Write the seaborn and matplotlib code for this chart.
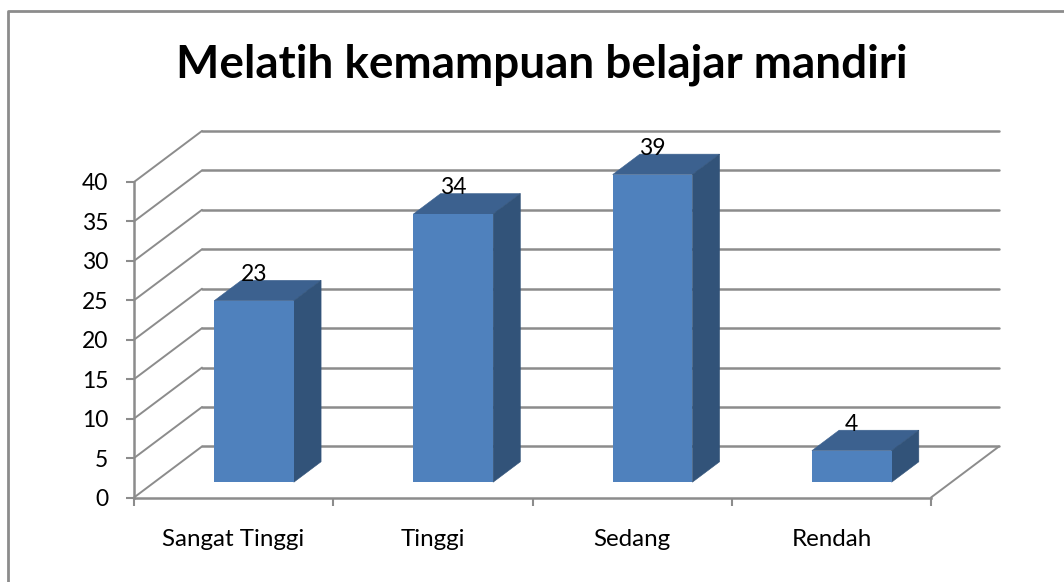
import matplotlib
matplotlib.use("Agg")
import matplotlib.pyplot as plt
from matplotlib.lines import Line2D
import pandas as pd
import seaborn as sns

categories = ["Sangat Tinggi", "Tinggi", "Sedang", "Rendah"]
values = [23, 34, 39, 4]
y_ticks = [0, 5, 10, 15, 20, 25, 30, 35, 40]
title = "Melatih kemampuan belajar mandiri"

W, H = 1064, 582
GREY = "#8c8c8c"
FRONT = "#4f81bd"
TOP = "#3c618f"
SIDE = "#325379"

# depth of the fake 3d floor, in data units
depth_x = 68 / 199.25
depth_y = 51 / 7.88

sns.set_style("white")
plt.rcParams["font.family"] = ["Lato", "DejaVu Sans"]

df = pd.DataFrame({"category": categories, "value": values})

fig = plt.figure(figsize=(W / 100, H / 100), dpi=100)
ax = fig.add_axes([134 / W, 1 - 497.5 / H, (931 - 134) / W, (497.5 - 182) / H])

sns.barplot(data=df, x="category", y="value", color=FRONT, saturation=1,
            width=0.4, ax=ax, zorder=3, linewidth=0)
ax.set_xlim(-0.5, 3.5)
ax.set_ylim(0, 40)

# walls and gridlines
for level in y_ticks:
    ax.plot([-0.5, -0.5 + depth_x], [level, level + depth_y], color=GREY, lw=1.4,
            clip_on=False, zorder=1)
    ax.plot([-0.5 + depth_x, 3.5 + depth_x], [level + depth_y, level + depth_y],
            color=GREY, lw=1.8, clip_on=False, zorder=1)
ax.plot([3.5, 3.5 + depth_x], [0, depth_y], color=GREY, lw=1.4, clip_on=False, zorder=1)

# move bars onto the floor and add top and side faces
for i, patch in enumerate(ax.patches):
    x0 = patch.get_x() + 0.3 * depth_x
    y0 = 0.3 * depth_y
    w = patch.get_width()
    val = values[i]
    patch.set_x(x0)
    patch.set_y(y0)
    patch.set_clip_on(False)
    dx = 0.4 * depth_x
    dy = 0.4 * depth_y
    ax.fill([x0, x0 + w, x0 + w + dx, x0 + dx],
            [y0 + val, y0 + val, y0 + val + dy, y0 + val + dy],
            facecolor=TOP, edgecolor=TOP, lw=0.4, clip_on=False, zorder=2.9)
    ax.fill([x0 + w, x0 + w + dx, x0 + w + dx, x0 + w],
            [y0, y0 + dy, y0 + val + dy, y0 + val],
            facecolor=SIDE, edgecolor=SIDE, lw=0.4, clip_on=False, zorder=2.9)
    ax.annotate(str(val), (x0 + w / 2, y0 + val), xytext=(0, 19),
                textcoords="offset points", ha="center", va="center",
                fontsize=16.5, color="black", zorder=5, annotation_clip=False)

sns.despine(ax=ax)
for side in ["left", "bottom"]:
    ax.spines[side].set_color(GREY)
    ax.spines[side].set_linewidth(1.8)
    ax.spines[side].set_zorder(2)

ax.set_xlabel("")
ax.set_ylabel("")
ax.set_yticks(y_ticks)
ax.tick_params(axis="y", length=5.5, width=1.5, color=GREY, labelsize=16.5,
               labelcolor="black", pad=13, left=True)
ax.set_xticks([-0.5, 0.5, 1.5, 2.5, 3.5])
ax.set_xticklabels([])
ax.set_xticks([0, 1, 2, 3], categories, minor=True)
ax.tick_params(axis="x", which="major", length=5.5, width=1.5, color=GREY, bottom=True)
ax.tick_params(axis="x", which="minor", length=0, labelsize=17.4, labelcolor="black", pad=23)

fig.text(542 / W, 1 - 77 / H, title, ha="center", va="baseline", fontsize=33,
         fontweight="bold", color="black")

# chart frame, only the top and left edges are inside the crop
fig.add_artist(Line2D([8 / W, 8 / W, 1], [0, 1 - 11 / H, 1 - 11 / H], color=GREY, lw=2))

fig.savefig("out.png", dpi=100, facecolor="white")
